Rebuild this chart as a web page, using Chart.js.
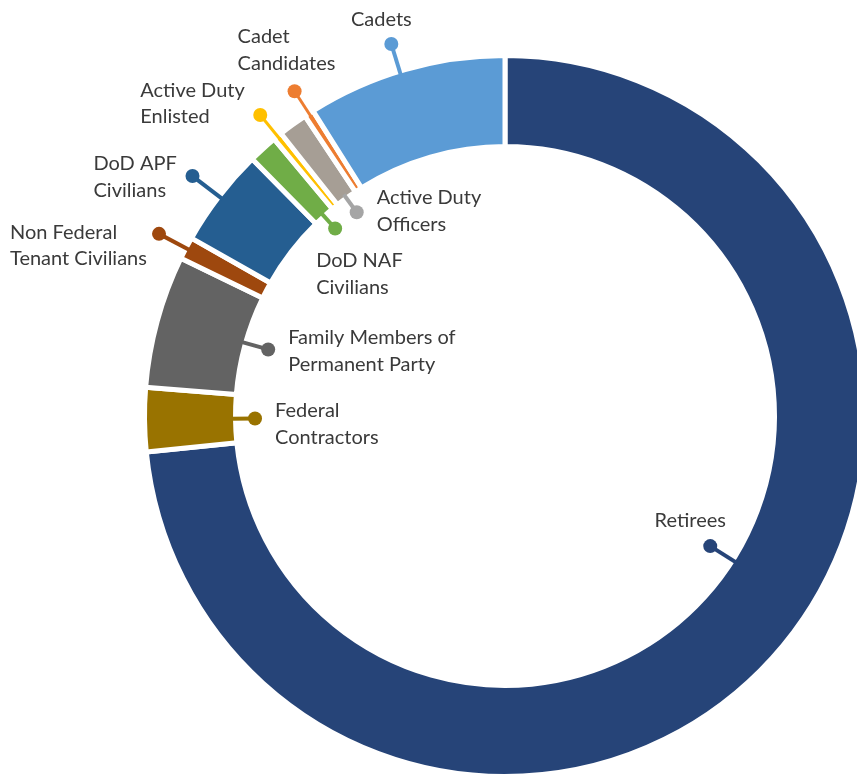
<!DOCTYPE html>
<html>
<head>
<meta charset="utf-8">
<script src="https://cdn.jsdelivr.net/npm/chart.js@4.4.1/dist/chart.umd.min.js"></script>
<style>
  html, body { margin: 0; padding: 0; background: #fff; overflow: hidden; }
  #wrap { width: 857px; height: 775px; overflow: hidden; position: relative; }
  canvas { position: absolute; left: 0; top: 0; }
</style>
</head>
<body>
<div id="wrap"><canvas id="ring" width="1010" height="832"></canvas></div>
<script>
// 카테고리 (시계방향, 12시부터)
const categories = [
    'Retirees',
    'Federal Contractors',
    'Family Members of Permanent Party',
    'Non Federal Tenant Civilians',
    'DoD APF Civilians',
    'DoD NAF Civilians',
    'Active Duty Enlisted',
    'Active Duty Officers',
    'Cadet Candidates',
    'Cadets',
];

// 비율 (%) - 그림에서 읽은 값
const shares = [73.42, 2.86, 5.94, 1.0, 4.42, 1.31, 0.39, 1.31, 0.42, 8.94];

// 라벨 텍스트 (줄 단위)
const labelLines = [
    ['Retirees'],
    ['Federal', 'Contractors'],
    ['Family Members of', 'Permanent Party'],
    ['Non Federal', 'Tenant Civilians'],
    ['DoD APF', 'Civilians'],
    ['DoD NAF', 'Civilians'],
    ['Active Duty', 'Enlisted'],
    ['Active Duty', 'Officers'],
    ['Cadet', 'Candidates'],
    ['Cadets'],
];

const sliceColors = ['#264478', '#997300', '#636363', '#9E480E', '#255E91', '#70AD47', '#FFC000', '#A69E95', '#ED7D31', '#5B9BD5'];
const leaderColors = ['#264478', '#997300', '#636363', '#9E480E', '#255E91', '#70AD47', '#FFC000', '#A5A5A5', '#ED7D31', '#5B9BD5'];

// 리더선 / 라벨 배치 (dir: 링 바깥/안쪽, reach: 링 가장자리에서 점까지, frac: 조각 내 각도 위치)
const labelLayout = [
    { dir: 'in',  reach: 29, frac: 0.463, align: 'center', dx: -20, dy: -19, lw: 4 },
    { dir: 'in',  reach: 22, frac: 0.5,   align: 'left',   dx: 20,  dy: -1,  lw: 4 },
    { dir: 'in',  reach: 26, frac: 0.52,  align: 'left',   dx: 20,  dy: -5,  lw: 4 },
    { dir: 'out', reach: 33, frac: 0.5,   align: 'left',   dx: -149, dy: 5,  lw: 4 },
    { dir: 'out', reach: 36, frac: 0.5,   align: 'left',   dx: -99, dy: -6,  lw: 4 },
    { dir: 'in',  reach: 19, frac: 0.5,   align: 'left',   dx: -19, dy: 39,  lw: 4 },
    { dir: 'out', reach: 30, frac: 0.5,   align: 'left',   dx: -120, dy: -18, lw: 3 },
    { dir: 'in',  reach: 20, frac: 0.5,   align: 'left',   dx: 20,  dy: -8,  lw: 4 },
    { dir: 'out', reach: 29, frac: 0.5,   align: 'left',   dx: -57, dy: -48, lw: 3 },
    { dir: 'out', reach: 31, frac: 0.472, align: 'center', dx: -10, dy: -18, lw: 4 },
];

const BORDER = 5;
const LINE_H = 26.5;

// 리더선 + 점 + 텍스트
const leaderLabels = {
    id: 'leaderLabels',
    afterDatasetsDraw(chart) {
        const ctx = chart.ctx;
        const meta = chart.getDatasetMeta(0);
        ctx.save();
        meta.data.forEach((arc, i) => {
            const p = arc.getProps(['x', 'y', 'startAngle', 'endAngle', 'innerRadius', 'outerRadius'], true);
            const L = labelLayout[i];
            const ang = p.startAngle + (p.endAngle - p.startAngle) * L.frac;
            const cos = Math.cos(ang), sin = Math.sin(ang);
            const outerVis = p.outerRadius - BORDER / 2;
            const innerVis = p.innerRadius + BORDER / 2;
            let r0, r1;
            if (L.dir === 'out') {
                r0 = outerVis - 2;
                r1 = outerVis + L.reach;
            } else {
                r0 = innerVis + 2;
                r1 = innerVis - L.reach;
            }
            const dotX = p.x + cos * r1, dotY = p.y + sin * r1;
            ctx.strokeStyle = leaderColors[i];
            ctx.lineWidth = L.lw;
            ctx.beginPath();
            ctx.moveTo(p.x + cos * r0, p.y + sin * r0);
            ctx.lineTo(dotX, dotY);
            ctx.stroke();
            ctx.fillStyle = leaderColors[i];
            ctx.beginPath();
            ctx.arc(dotX, dotY, 7, 0, Math.PI * 2);
            ctx.fill();

            ctx.fillStyle = '#3a3a3a';
            ctx.font = '20px Lato';
            ctx.textAlign = L.align;
            ctx.textBaseline = 'alphabetic';
            labelLines[i].forEach((line, k) => {
                ctx.fillText(line, dotX + L.dx, dotY + L.dy + k * LINE_H);
            });
        });
        ctx.restore();
    },
};

const ctx = document.getElementById('ring').getContext('2d');
new Chart(ctx, {
    type: 'doughnut',
    data: {
        labels: categories,
        datasets: [
            {
                data: shares,
                backgroundColor: sliceColors,
                borderColor: '#ffffff',
                borderWidth: BORDER,
                hoverOffset: 0,
            },
        ],
    },
    options: {
        responsive: false,
        animation: false,
        cutout: 269.5,
        layout: {
            padding: { left: 142, right: 142, top: 53, bottom: 53 },
        },
        plugins: {
            legend: { display: false },
            tooltip: { enabled: false },
        },
        events: [],
    },
    plugins: [leaderLabels],
});
</script>
</body>
</html>
